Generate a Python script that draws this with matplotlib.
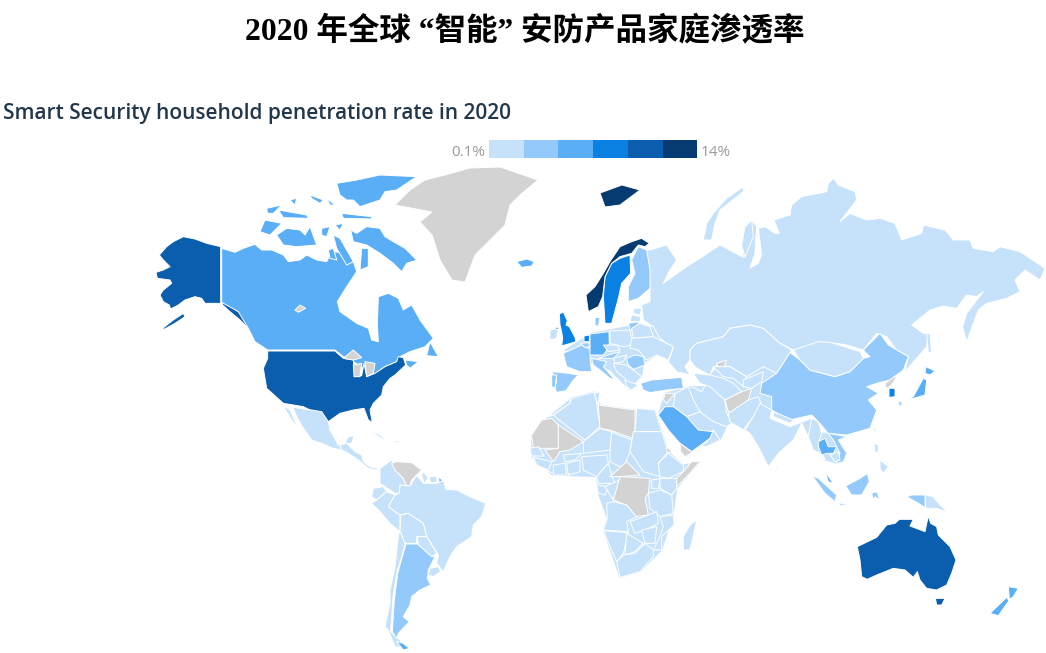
import matplotlib
matplotlib.use("Agg")
import matplotlib.pyplot as plt
from matplotlib.patches import Polygon

TITLE = "2020 年全球 “智能” 安防产品家庭渗透率"
SUBTITLE = "Smart Security household penetration rate in 2020"
LEGEND_LOW = "0.1%"
LEGEND_HIGH = "14%"
CLASS_COLORS = ["#C6E2FB", "#93CAFB", "#5AAEF5", "#0B80E3", "#0A5EAD", "#053B70"]
NO_DATA = "#D3D3D3"
G = -1  # class of countries without data

# Each region: name -> (colour class, outline at 3x, relative to its crop origin)
ORIGINS = {"NA": (140, 165), "EU": (510, 230), "AS": (700, 170), "AF": (520, 380),
           "SA": (280, 400), "OC": (780, 440), "PG": (0, 0)}

NORTH_AMERICA = {
 "Alaska": (4, [(242,245),(200,235),(165,222),(130,215),(100,230),(80,245),(58,270),(70,285),(90,305),(70,315),(48,322),(52,340),(90,345),(95,355),(70,375),(60,390),(70,410),(88,420),(92,432),(115,420),(135,405),(165,395),(185,400),(195,415),(242,415)]),
 "AlaskaTail": (4, [(130,445),(100,465),(68,490),(72,493),(105,475),(135,455)]),
 "Panhandle": (4, [(245,412),(270,420),(295,440),(325,470),(325,490),(300,465),(270,440),(248,420)]),
 "Canada": (2, [(245,250),(285,262),(310,250),(345,238),(365,255),(395,255),(430,270),(445,290),(480,285),(500,270),(530,285),(560,290),(575,260),(600,262),(640,290),(650,320),(620,365),(592,410),(600,440),(650,475),(685,490),(695,525),(715,530),(712,480),(715,395),(745,385),(775,400),(790,435),(815,420),(840,465),(880,520),(855,545),(810,560),(780,575),(770,590),(735,605),(700,630),(670,610),(640,590),(610,575),(585,555),(383,555),(345,530),(325,490),(295,440),(245,412)]),
 "Newfoundland": (2, [(870,530),(895,575),(860,572)]),
 "NovaScotia": (2, [(795,585),(835,590),(810,610),(800,600)]),
 "Baffin": (2, [(632,195),(650,205),(680,185),(720,190),(735,215),(760,230),(795,250),(830,285),(800,295),(785,320),(760,295),(720,265),(680,240),(640,230)]),
 "Victoria": (2, [(410,210),(440,190),(480,195),(495,210),(510,185),(530,240),(470,245),(430,240)]),
 "Banks": (2, [(360,200),(375,165),(425,175),(390,210)]),
 "Ellesmere": (2, [(590,55),(650,45),(720,30),(830,35),(770,75),(735,80),(720,105),(660,125),(640,105),(620,105),(600,90)]),
 "Devon": (2, [(605,145),(695,155),(695,162),(610,160)]),
 "Melville": (2, [(415,135),(500,150),(505,160),(430,158)]),
 "Prince": (2, [(380,130),(425,120),(400,145),(382,145)]),
 "Isle1": (2, [(510,90),(550,105),(540,115),(515,100)]),
 "Isle2": (2, [(560,100),(585,120),(570,120)]),
 "Isle3": (2, [(450,105),(470,100),(465,120)]),
 "Somerset": (2, [(545,190),(570,185),(560,215),(545,210)]),
 "Wales": (2, [(585,180),(610,175),(600,195)]),
 "Boothia": (2, [(580,210),(600,220),(640,290),(620,300),(590,250)]),
 "Isle4": (2, [(565,255),(580,250),(590,285),(570,280)]),
 "Southampton": (2, [(665,250),(685,250),(685,305),(660,315)]),
 "USA": (4, [(383,558),(585,558),(610,580),(640,585),(645,635),(665,632),(672,595),(680,635),(705,625),(735,605),(770,590),(775,575),(790,578),(797,600),(765,630),(750,640),(730,665),(725,690),(700,715),(690,735),(697,772),(685,765),(672,730),(640,735),(600,745),(565,770),(520,740),(490,725),(430,715),(380,670),(370,610),(383,580)]),
 "Superior": (G, [(610,580),(640,555),(665,578),(640,585)]),
 "Michigan": (G, [(640,600),(665,595),(660,635),(642,635)]),
 "Huron": (G, [(675,590),(705,595),(700,625),(680,635)]),
 "GreatBear": (G, [(465,435),(480,420),(497,430),(475,442)]),
}

LATIN_AMERICA = {
 "Mexico": (0, [(38,22),(95,30),(125,35),(145,65),(150,90),(175,135),(195,130),(185,150),(160,145),(125,130),(95,120),(70,85),(50,50)]),
 "Baja": (0, [(8,15),(30,30),(55,85),(35,60)]),
 "CentralAmerica": (0, [(180,135),(200,130),(225,155),(245,165),(250,185),(270,200),(295,205),(290,210),(265,205),(235,180),(205,160),(185,150)]),
 "Yucatan": (0, [(195,130),(205,110),(222,108),(215,130)]),
 "Cuba": (0, [(265,92),(300,105),(325,125),(295,110)]),
 "Hispaniola": (0, [(335,125),(358,122),(358,128),(338,128)]),
 "Colombia": (0, [(300,205),(335,180),(345,210),(370,235),(380,260),(360,255),(358,280),(345,280),(318,262),(300,250)]),
 "Venezuela": (G, [(335,190),(350,185),(395,188),(425,210),(410,225),(395,240),(390,258),(378,255),(370,235),(345,210)]),
 "Ecuador": (0, [(280,265),(310,260),(320,275),(290,300),(275,290)]),
 "Peru": (0, [(290,300),(320,275),(345,285),(325,320),(360,345),(360,395),(330,370),(300,335),(275,310)]),
 "Brazil": (0, [(345,285),(358,280),(360,255),(390,258),(410,225),(430,250),(470,250),(490,240),(498,268),(530,270),(570,290),(617,310),(605,350),(580,375),(575,410),(530,440),(510,470),(490,515),(470,490),(475,465),(440,410),(430,370),(385,340),(360,345),(325,320)]),
 "Guyana": (0, [(430,215),(445,235),(432,250),(425,225)]),
 "Suriname": (0, [(448,230),(470,228),(470,248),(452,248)]),
 "FrenchGuiana": (2, [(475,232),(488,240),(478,248)]),
 "Bolivia": (0, [(362,345),(385,340),(430,370),(440,410),(410,410),(410,430),(375,430),(360,395)]),
 "Paraguay": (0, [(412,410),(440,410),(470,460),(455,470),(415,435)]),
 "Uruguay": (0, [(450,505),(475,500),(482,515),(460,530),(445,525)]),
 "Chile": (0, [(356,400),(362,398),(375,432),(365,470),(350,520),(338,600),(332,695),(355,715),(385,745),(345,740),(325,690),(315,680),(330,610),(330,570),(345,500)]),
 "Argentina": (1, [(378,432),(412,432),(455,470),(465,470),(445,510),(442,535),(452,555),(420,570),(395,590),(390,615),(370,650),(388,665),(355,700),(350,715),(337,695),(343,600),(353,520),(367,470)]),
 "TierraDelFuego": (2, [(350,725),(370,730),(388,745),(370,750)]),
}

EUROPE_BASE = {
 "Europe": (0, [(165,360),(245,310),(350,290),(430,290),(480,385),(440,375),(400,400),(395,440),(360,480),(300,420),(250,400)]),
 "Arabia": (0, [(445,555),(465,490),(540,470),(590,470),(650,590),(630,630),(575,650),(525,680),(510,640)]),
}

EURASIA_NORTH = {
 "Russia": (0, [(-150,240),(-100,225),(-70,270),(-90,300),(-110,340),(-40,290),(0,265),(60,225),(130,262),(125,225),(135,170),(155,150),(170,170),(165,250),(150,295),(175,280),(185,255),(175,175),(195,170),(225,190),(238,190),(222,150),(270,135),(275,105),(305,80),(380,65),(385,40),(400,25),(415,45),(465,65),(470,90),(420,155),(450,130),(500,150),(540,145),(585,160),(605,210),(665,190),(670,165),(735,180),(760,210),(810,210),(820,235),(880,245),(900,230),(960,245),(1035,295),(1020,330),(975,300),(945,330),(960,365),(920,385),(860,400),(835,420),(800,515),(788,470),(800,430),(850,365),(830,380),(800,375),(770,415),(730,408),(690,420),(635,465),(670,490),(685,490),(680,530),(615,605),(625,560),(590,540),(560,500),(530,490),(490,540),(440,525),(395,518),(355,515),(350,530),(280,540),(240,520),(190,475),(150,465),(90,475),(70,500),(-10,520),(-30,540),(-30,570),(-45,590),(-30,615),(-70,605),(-95,575),(-80,535),(-120,505),(-140,470),(-170,450),(-175,405),(-150,395),(-150,355),(-155,290),(-165,240)]),
 "NovayaZemlya": (0, [(10,210),(20,160),(40,130),(80,85),(130,50),(130,65),(60,120),(45,160),(35,210)]),
 "Severny": (0, [(125,225),(135,170),(155,150),(160,200),(135,262)]),
 "Sakhalin": (0, [(680,490),(690,490),(695,545),(685,550)]),
 "CentralAsiaBase": (0, [(20,640),(30,615),(60,585),(140,620),(190,590),(230,610),(185,640),(180,670),(215,680),(215,720),(135,780),(90,755),(20,760)]),
 "IndochinaBase": (0, [(325,800),(345,790),(385,790),(440,800),(415,810),(440,850),(430,875),(410,880),(395,875),(375,870),(360,850)]),
}

EUROPE = {
 "Finland": (1, [(385,50),(410,60),(420,120),(420,175),(385,205),(355,215),(355,170),(375,130),(365,90)]),
 "Sweden": (3, [(330,85),(360,75),(362,130),(335,160),(325,205),(305,280),(285,280),(280,200),(285,140),(305,100)]),
 "Norway": (5, [(228,195),(255,170),(280,130),(300,95),(330,50),(365,35),(395,25),(418,40),(405,50),(385,45),(365,70),(330,80),(305,100),(285,140),(278,200),(265,230),(235,245)]),
 "Iceland": (2, [(20,95),(50,87),(73,95),(65,108),(35,112)]),
 "UK": (3, [(148,252),(160,246),(172,272),(168,285),(178,290),(195,322),(198,335),(165,345),(155,347),(158,325),(155,305),(150,285)]),
 "Ireland": (0, [(120,300),(145,295),(140,325),(120,330)]),
 "NorthernIreland": (4, [(133,292),(145,292),(143,300)]),
 "France": (1, [(160,370),(215,345),(245,360),(240,385),(245,425),(210,425),(170,410)]),
 "Spain": (1, [(125,425),(175,430),(205,435),(190,450),(168,482),(140,487),(135,475),(140,450)]),
 "Portugal": (1, [(125,435),(140,435),(135,475),(125,470)]),
 "Germany": (2, [(240,312),(297,305),(298,350),(280,375),(240,375)]),
 "Netherlands": (3, [(222,318),(238,315),(238,335),(222,335)]),
 "Belgium": (1, [(212,340),(235,338),(240,350),(225,352)]),
 "Italy": (1, [(245,385),(290,395),(280,410),(315,450),(300,445),(270,420),(250,405)]),
 "Denmark": (1, [(255,262),(270,262),(265,290),(255,285)]),
 "Poland": (0, [(300,303),(360,300),(368,345),(340,350),(300,340)]),
 "Czechia": (0, [(280,345),(320,345),(330,360),(295,365)]),
 "Austria": (1, [(285,378),(330,365),(310,385),(265,385)]),
 "Lithuania": (1, [(355,280),(385,275),(385,300),(360,300)]),
 "Estonia": (0, [(370,235),(395,235),(390,255),(370,250)]),
 "Latvia": (0, [(365,255),(392,260),(390,275),(360,275)]),
 "Belarus": (0, [(365,295),(390,280),(420,290),(430,320),(370,325)]),
 "Ukraine": (0, [(365,325),(430,320),(490,350),(475,390),(440,375),(410,390),(385,360),(360,355)]),
 "Romania": (1, [(350,385),(375,375),(400,380),(405,405),(370,418),(355,405)]),
 "Hungary": (0, [(310,385),(350,375),(340,395),(315,400)]),
 "Balkans": (0, [(310,400),(350,405),(370,420),(395,440),(360,480),(345,445),(320,425)]),
 "Greece": (0, [(345,450),(385,465),(365,480),(350,470)]),
 "Turkey": (1, [(392,460),(425,450),(515,442),(520,475),(470,480),(420,488),(400,480)]),
 "Syria": (G, [(465,490),(495,490),(470,520),(460,510)]),
 "Iran": (0, [(535,465),(575,485),(590,460),(640,480),(650,550),(665,580),(650,590),(610,575),(570,545),(540,510)]),
 "Iraq": (0, [(495,490),(535,470),(550,510),(570,545),(530,560),(490,530)]),
 "Saudi": (2, [(445,555),(465,530),(490,530),(530,560),(565,600),(610,605),(600,625),(545,665),(510,640),(475,600)]),
 "Oman": (0, [(610,600),(630,630),(590,650),(575,650),(600,625)]),
 "Yemen": (G, [(510,640),(545,665),(575,650),(525,680),(512,665)]),
}

ASIA = {
 "Kazakhstan": (0, [(-30,540),(-10,520),(70,500),(90,475),(150,465),(190,475),(240,520),(275,540),(230,610),(190,590),(140,620),(90,590),(60,585),(40,590),(30,615),(0,600),(-15,590),(-30,570)]),
 "Aral": (G, [(50,580),(80,570),(70,600),(55,600)]),
 "Uzbekistan": (0, [(40,590),(90,590),(140,620),(130,650),(100,625),(70,620)]),
 "Turkmenistan": (0, [(-20,610),(30,615),(70,625),(100,640),(125,665),(75,690),(30,650),(0,640)]),
 "Kyrgyzstan": (0, [(130,630),(190,605),(185,635),(155,655),(130,650)]),
 "Afghanistan": (G, [(75,690),(125,665),(155,655),(145,690),(100,725),(85,725)]),
 "Pakistan": (0, [(85,730),(145,690),(175,680),(185,705),(160,740),(130,780),(90,755)]),
 "India": (0, [(180,700),(215,720),(210,745),(270,770),(335,745),(345,790),(325,800),(305,760),(290,790),(280,810),(235,850),(205,890),(175,830),(150,790),(135,780),(160,740)]),
 "China": (1, [(185,640),(230,610),(270,548),(300,570),(330,600),(405,620),(450,605),(490,565),(510,560),(490,540),(540,490),(565,525),(625,560),(610,600),(570,630),(530,640),(500,650),(535,670),(505,690),(530,720),(510,775),(440,795),(385,790),(355,755),(335,735),(270,750),(215,720),(215,680),(180,670)]),
 "Mongolia": (0, [(280,540),(355,515),(395,518),(480,545),(490,565),(450,605),(405,620),(330,600),(300,570)]),
 "Myanmar": (0, [(335,745),(355,755),(365,790),(355,820),(375,870),(360,850),(340,840),(325,800)]),
 "Nepal": (0, [(220,725),(280,750),(270,760),(220,740)]),
 "Vietnam": (1, [(385,790),(440,800),(415,810),(440,850),(430,875),(410,880),(420,850),(400,810)]),
 "Thailand": (2, [(355,815),(375,805),(385,830),(410,830),(400,850),(380,850),(365,855),(355,830)]),
 "Cambodia": (0, [(390,855),(415,845),(420,870),(405,875)]),
 "SouthKorea": (3, [(567,655),(585,655),(585,680),(567,682)]),
 "NorthKorea": (G, [(555,640),(590,615),(585,630),(570,650),(558,655)]),
 "Honshu": (2, [(600,695),(640,680),(670,625),(680,630),(675,675),(640,685),(610,690)]),
 "Hokkaido": (2, [(678,590),(705,603),(690,615),(675,610)]),
 "Kyushu": (1, [(595,695),(607,695),(600,715)]),
 "Taiwan": (0, [(525,770),(530,790),(520,780)]),
 "SriLanka": (0, [(225,885),(232,890),(228,900)]),
}

AFRICA = {
 "Continent": (0, [(85,110),(150,55),(225,35),(240,75),(345,90),(405,90),(445,215),(490,255),(540,245),(470,325),(460,400),(425,510),(360,575),(300,592),(250,450),(262,415),(235,340),(230,290),(100,285),(35,230),(35,165)]),
 "Morocco": (0, [(85,110),(115,85),(150,55),(150,70),(100,105)]),
 "Algeria": (0, [(100,105),(150,70),(155,55),(225,35),(240,140),(195,180),(130,130)]),
 "Mauritania": (G, [(35,165),(65,120),(95,115),(115,135),(115,205),(40,205)]),
 "Mali": (G, [(115,135),(190,185),(150,210),(120,215),(100,245),(75,210),(115,205)]),
 "Libya": (G, [(235,75),(345,90),(345,178),(270,150),(240,145)]),
 "Tunisia": (0, [(222,40),(240,35),(235,75)]),
 "Egypt": (0, [(350,85),(405,90),(425,155),(345,155)]),
 "Sudan": (0, [(340,155),(425,155),(445,215),(415,250),(420,290),(370,275),(330,215)]),
 "Chad": (0, [(270,155),(335,180),(330,215),(310,265),(270,245)]),
 "Niger": (0, [(190,185),(240,145),(275,155),(270,210),(190,220)]),
 "Nigeria": (0, [(185,230),(260,225),(265,250),(230,290),(190,270)]),
 "Senegal": (0, [(30,205),(55,200),(72,228),(35,228)]),
 "Guinea": (0, [(40,232),(95,245),(85,270),(50,255)]),
 "IvoryCoast": (0, [(100,255),(135,250),(140,285),(100,285)]),
 "Ghana": (0, [(140,250),(180,240),(180,275),(145,285)]),
 "Burkina": (0, [(130,225),(185,220),(165,240),(135,245)]),
 "Liberia": (G, [(75,270),(100,280),(100,290)]),
 "Cameroon": (0, [(230,290),(265,250),(275,285),(285,310),(235,310)]),
 "CAR": (G, [(270,290),(320,245),(360,285),(300,290)]),
 "Gabon": (0, [(230,315),(265,320),(255,345),(235,340)]),
 "Congo": (0, [(255,320),(300,300),(280,360)]),
 "DRC": (G, [(280,360),(300,290),(390,295),(385,340),(375,355),(385,405),(345,410),(320,375)]),
 "Eritrea": (G, [(440,200),(460,220),(440,215)]),
 "Ethiopia": (0, [(415,250),(445,220),(490,255),(490,275),(445,295),(420,290)]),
 "Somalia": (G, [(470,320),(500,290),(540,245),(515,245),(490,275),(470,295)]),
 "Kenya": (0, [(420,295),(470,295),(470,325),(455,345),(420,325)]),
 "Uganda": (0, [(395,300),(420,295),(415,325),(395,325)]),
 "Tanzania": (0, [(385,340),(420,330),(455,345),(460,400),(420,410),(390,385)]),
 "Angola": (0, [(260,370),(280,365),(320,375),(350,410),(320,425),(325,455),(250,450),(262,415)]),
 "Zambia": (0, [(330,425),(385,405),(410,395),(415,430),(375,450),(345,460)]),
 "Mozambique": (0, [(420,410),(460,405),(462,435),(425,470),(425,510),(400,510),(415,480),(430,440)]),
 "Namibia": (0, [(250,452),(325,458),(310,520),(290,545),(270,500)]),
 "Botswana": (0, [(320,460),(370,490),(345,515),(315,525)]),
 "Zimbabwe": (0, [(365,450),(410,440),(405,490),(375,490)]),
 "SouthAfrica": (0, [(290,545),(310,525),(345,520),(375,490),(400,510),(400,530),(360,575),(300,592)]),
 "Madagascar": (0, [(530,420),(525,445),(510,510),(490,510),(490,470),(510,435)]),
}

OCEANIA = {
 "Australia": (4, [(232,320),(290,292),(320,255),(345,250),(358,238),(400,238),(390,258),(435,275),(445,228),(452,250),(470,260),(475,285),(510,320),(528,360),(515,400),(500,435),(470,450),(440,445),(420,420),(412,395),(400,412),(375,390),(340,385),(290,405),(262,418),(245,410),(240,360)]),
 "Tasmania": (4, [(466,475),(495,475),(485,495),(470,495)]),
 "NZNorth": (2, [(685,440),(715,445),(700,470),(688,478)]),
 "NZSouth": (2, [(630,520),(680,472),(687,482),(655,527)]),
 "PNG": (0, [(435,165),(460,170),(480,195),(505,218),(470,205),(437,205)]),
 "WestPapua": (1, [(395,165),(435,165),(435,203),(415,190),(380,170)]),
 "Sumatra": (1, [(97,108),(115,115),(170,165),(165,185),(135,160)]),
 "Java": (1, [(175,188),(225,200),(180,195)]),
 "Borneo": (1, [(197,138),(240,115),(262,100),(268,125),(245,165),(215,165)]),
 "Sulawesi": (1, [(275,160),(290,155),(300,180),(285,170),(280,180)]),
 "Malaya": (2, [(135,95),(160,130),(145,125)]),
 "Luzon": (0, [(283,10),(295,15),(295,40),(285,35)]),
 "Mindanao": (0, [(300,60),(325,80),(310,100),(300,85)]),
}

PAGE_SHAPES = {
 "Greenland": (G, [(395,205),(410,190),(425,180),(445,175),(470,168),(500,167),(538,180),(520,195),(510,205),(505,225),(490,240),(475,255),(465,282),(452,280),(440,260),(432,235),(420,222),(432,212)]),
 "Svalbard": (5, [(600,193),(622,185),(640,190),(620,205),(605,207)]),
}

LAYERS = [("NA", NORTH_AMERICA), ("SA", LATIN_AMERICA), ("PG", PAGE_SHAPES), ("EU", EUROPE_BASE),
          ("AS", EURASIA_NORTH), ("AF", AFRICA), ("EU", EUROPE), ("AS", ASIA), ("OC", OCEANIA)]

fig = plt.figure(figsize=(10.46, 6.53), dpi=100, facecolor="white")
ax = fig.add_axes([0, 0, 1, 1])
ax.set_xlim(0, 1046)
ax.set_ylim(653, 0)
ax.axis("off")

for key, layer in LAYERS:
    ox, oy = ORIGINS[key]
    scale = 1.0 if key == "PG" else 1 / 3
    for name, (cls, pts) in layer.items():
        xy = [(ox + x * scale, oy + y * scale) for x, y in pts]
        color = NO_DATA if cls == G else CLASS_COLORS[cls]
        is_base = name.endswith("Base") or name in ("Continent", "Europe", "Arabia")
        ax.add_patch(Polygon(xy, closed=True, facecolor=color,
                             edgecolor=color if is_base else "white", linewidth=0.7, joinstyle="round"))

for i, c in enumerate(CLASS_COLORS):
    ax.add_patch(Polygon([(489 + i * 34.7, 140), (489 + (i + 1) * 34.7, 140),
                          (489 + (i + 1) * 34.7, 158), (489 + i * 34.7, 158)],
                         closed=True, facecolor=c, edgecolor="none"))

ax.text(525, 31, TITLE, ha="center", va="center", fontsize=22.7, fontweight="bold",
        family=["Liberation Serif", "Noto Sans CJK SC"], color="black")
ax.text(3, 114, SUBTITLE, ha="left", va="center", fontsize=15, fontweight="semibold",
        family="Open Sans", color="#22384A")
ax.text(485, 152, LEGEND_LOW, ha="right", va="center", fontsize=11, family="Open Sans", color="#9A9A9A")
ax.text(701, 152, LEGEND_HIGH, ha="left", va="center", fontsize=11, family="Open Sans", color="#9A9A9A")

fig.savefig("out.png", dpi=100, facecolor="white")
